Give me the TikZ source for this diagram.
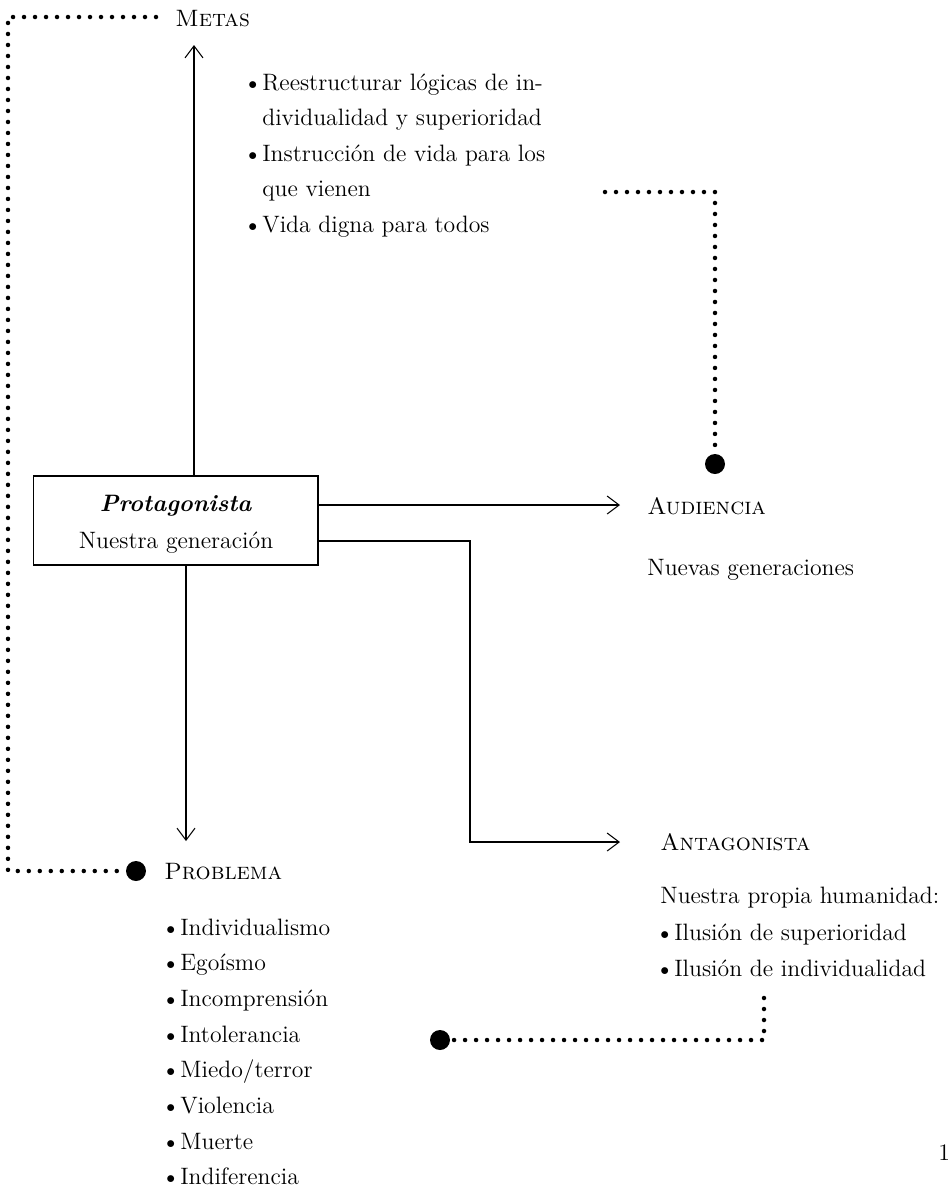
\documentclass[tikz,border=0pt]{standalone}
\usetikzlibrary{arrows.meta, positioning}

\newcommand{\bul}{\makebox[0.28cm][l]{\raisebox{0.02cm}{\scalebox{0.7}{$\bullet$}}}}

\begin{document}
\begin{tikzpicture}[x=0.02cm, y=-0.02cm,
    font=\fontsize{13.5}{17}\selectfont,
    txt/.style={inner sep=0, anchor=base west},
    arr/.style={-{Straight Barb[length=0.24cm, width=0.36cm]}, line width=0.6pt},
    dots/.style={line width=0.09cm, line cap=round, dash pattern=on 0pt off 0.22cm},
    bigdot/.style={circle, fill=black, inner sep=0, minimum size=0.4cm}]
    \useasboundingbox (0,0) rectangle (950,1198);

    % Central box
    \node[draw, line width=0.6pt, minimum width=5.7cm, minimum height=1.78cm] (prot) at (175.5,520.5) {};
    \node[inner sep=0, anchor=base] (protName) at (176,511) {\textbf{\textit{Protagonista}}};
    \node[inner sep=0, anchor=base] (protGen) at (176,548) {Nuestra generación};

    % Headings
    \node[txt] (metas) at (175,26) {\textsc{Metas}};
    \node[txt] (aud) at (647,514) {\textsc{Audiencia}};
    \node[txt] (ant) at (660,850) {\textsc{Antagonista}};
    \node[txt] (prob) at (164,879) {\textsc{Problema}};

    % Metas list
    \node[txt] (meta1) at (248,90) {\bul Reestructurar lógicas de in-};
    \node[txt] (meta2) at (262,125.5) {dividualidad y superioridad};
    \node[txt] (meta3) at (248,161) {\bul Instrucción de vida para los};
    \node[txt] (meta4) at (262,196.5) {que vienen};
    \node[txt] (meta5) at (248,232) {\bul Vida digna para todos};

    % Audiencia and antagonista texts
    \node[txt] (audtxt) at (647,575) {Nuevas generaciones};
    \node[txt] (anttxt) at (660,903) {Nuestra propia humanidad:};
    \node[txt] (ant1) at (660,940) {\bul Ilusión de superioridad};
    \node[txt] (ant2) at (660,976) {\bul Ilusión de individualidad};

    % Problema list
    \foreach \t [count=\i] in {Individualismo, Egoísmo, Incomprensión, Intolerancia,
        Miedo/terror, Violencia, Muerte, Indiferencia}
        \node[txt] (prob\i) at (166,{935+35.7*(\i-1)}) {\bul \t};

    % Page number
    \node[txt] (page) at (938,1160) {1};

    % Arrows from the box
    \coordinate (metasTip) at (194,45);
    \coordinate (audTip) at (620,505);
    \coordinate (antBend) at (470,541);
    \coordinate (antTip) at (620,842);
    \coordinate (probTip) at (186,841);
    \draw[arr] (prot.north -| metasTip) -- (metasTip);
    \draw[arr] (prot.east |- audTip) -- (audTip);
    \draw[arr] (prot.east |- antBend) -- (antBend) |- (antTip);
    \draw[arr] (prot.south -| probTip) -- (probTip);

    % Dotted links
    \node[bigdot] (probDot) at (136,871) {};
    \node[bigdot] (audDot) at (715,464) {};
    \node[bigdot] (antDot) at (440,1040) {};
    \coordinate (metasEnd) at (156,17);
    \coordinate (audStart) at (605,192);
    \coordinate (antStart) at (764,998);
    \draw[dots] (metasEnd) -- (8,17) |- (probDot);
    \draw[dots] (audStart) -| (audDot);
    \draw[dots] (antStart) |- (antDot);
\end{tikzpicture}
\end{document}
